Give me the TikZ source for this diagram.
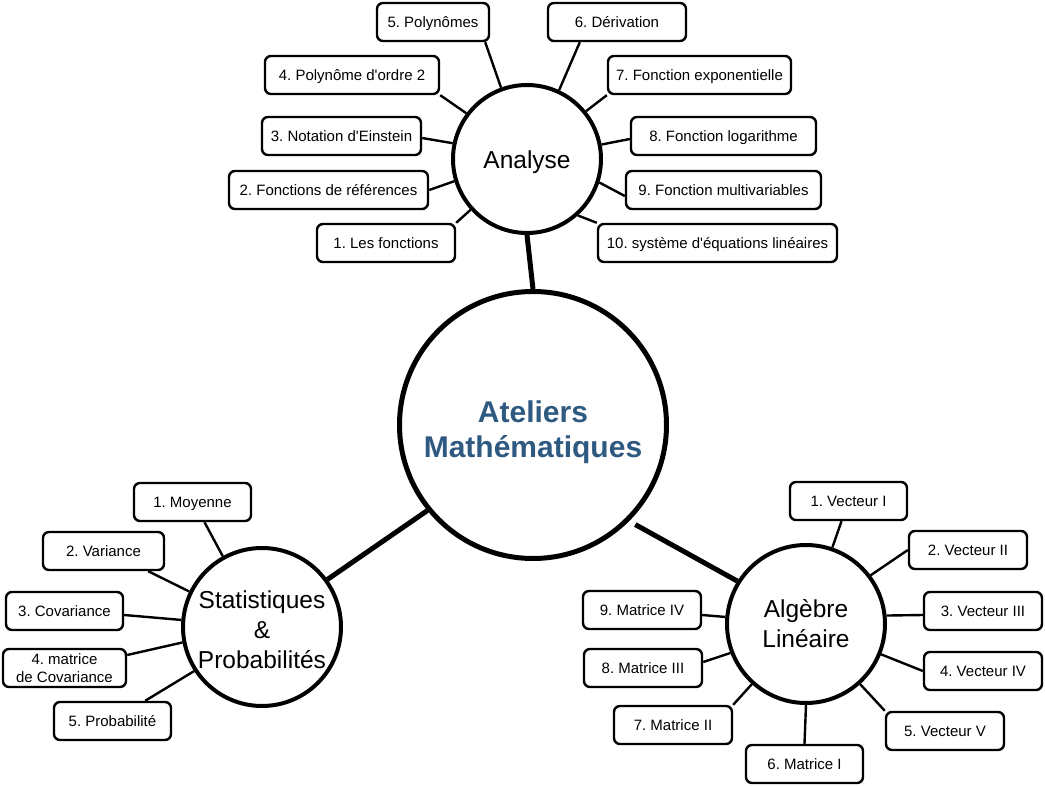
\documentclass[tikz,border=0pt]{standalone}
\usepackage{fontspec}
\setmainfont{Liberation Sans}
\definecolor{titleblue}{RGB}{46,89,128}
\frenchspacing
\begin{document}
\begin{tikzpicture}[x=1pt,y=-1pt,
  box/.style={draw, line width=2.4pt, rounded corners=6pt, minimum height=38pt, inner sep=0pt, font=\fontsize{15}{18}\selectfont, text height=12pt, text depth=1.3pt},
  twoline/.style={text height=, text depth=, align=center, font=\fontsize{15}{18}\selectfont},
  hub/.style={draw, circle, line width=4pt, inner sep=0pt, fill=white},
  hubtext/.style={font=\fontsize{24.5}{30}\selectfont, align=center, inner sep=0pt},
  link/.style={line width=2.4pt},
  trunk/.style={line width=5pt}]
\useasboundingbox (0,0) rectangle (1045,786);
% hubs
\node[hub, minimum size=148pt, label={[hubtext, yshift=-3pt]center:Analyse}] (an) at (527,159) {};
\node[hub, minimum size=267pt, line width=5pt, label={[hubtext, text=titleblue, font=\bfseries\fontsize{30}{35}\selectfont, yshift=-7pt]center:Ateliers\\Mathématiques}] (main) at (533,425) {};
\node[hub, minimum size=158pt, label={[hubtext, yshift=-3pt]center:Statistiques\\\&\\Probabilités}] (st) at (262,627) {};
\node[hub, minimum size=158pt, label={[hubtext]center:Algèbre\\Linéaire}] (al) at (806,624) {};
% Analyse boxes
\node[box, minimum width=112pt] (a5) at (433,22) {5. Polynômes};
\node[box, minimum width=138pt] (a6) at (617,22) {6. Dérivation};
\node[box, minimum width=174pt] (a4) at (352,75) {4. Polynôme d\textquotesingle ordre 2};
\node[box, minimum width=183pt] (a7) at (699.5,75) {7. Fonction exponentielle};
\node[box, minimum width=159pt] (a3) at (341.5,136) {3. Notation d\textquotesingle Einstein};
\node[box, minimum width=185pt] (a8) at (723.5,136) {8. Fonction logarithme};
\node[box, minimum width=199pt] (a2) at (328.5,190) {2. Fonctions de références};
\node[box, minimum width=195pt] (a9) at (723.5,190) {9. Fonction multivariables};
\node[box, minimum width=138pt] (a1) at (386,243) {1. Les fonctions};
\node[box, minimum width=239pt] (a10) at (717.5,243) {10. système d\textquotesingle équations linéaires};
% Stats boxes
\node[box, minimum width=117pt] (s1) at (192.5,502) {1. Moyenne};
\node[box, minimum width=121pt] (s2) at (103.5,551) {2. Variance};
\node[box, minimum width=117pt] (s3) at (64.5,611) {3. Covariance};
\node[box, twoline, minimum width=123pt] (s4) at (64.5,668) {4. matrice\\de Covariance};
\node[box, minimum width=117pt] (s5) at (112.5,721) {5. Probabilité};
% Algebra boxes
\node[box, minimum width=117pt] (l1) at (848.5,501) {1. Vecteur I};
\node[box, minimum width=118pt] (l2) at (968,550) {2. Vecteur II};
\node[box, minimum width=118pt] (l3) at (983,611) {3. Vecteur III};
\node[box, minimum width=118pt] (l4) at (983,671) {4. Vecteur IV};
\node[box, minimum width=118pt] (l5) at (945,731) {5. Vecteur V};
\node[box, minimum width=117pt] (l6) at (804.5,764) {6. Matrice I};
\node[box, minimum width=118pt] (l7) at (673,725) {7. Matrice II};
\node[box, minimum width=118pt] (l8) at (643,668) {8. Matrice III};
\node[box, minimum width=118pt] (l9) at (642,610) {9. Matrice IV};
% trunks
\draw[trunk] (an.270) -- (main.90);
\draw[trunk] (main.219) -- (st.36);
\draw[trunk, shorten <=7pt] (main.315) -- (al.148);
% Analyse links
\draw[link] ([xshift=-5pt]a5.south east) -- (an.110);
\draw[link] ([xshift=33pt]a6.south west) -- (an.65);
\draw[link] (a4.south east) -- (an.143);
\draw[link] (a7.south west) -- (an.39);
\draw[link] ([yshift=-2pt]a3.east) -- (an.168);
\draw[link] ([yshift=-3pt]a8.west) -- (an.11);
\draw[link] (a2.east) -- (an.197);
\draw[link] ([yshift=-6pt]a9.west) -- (an.342);
\draw[link] (a1.north east) -- (an.222);
\draw[link] (a10.north west) -- (an.312);
% Stats links
\draw[link] ([xshift=12pt]s1.south) -- (st.119);
\draw[link] ([xshift=-17pt]s2.south east) -- (st.154);
\draw[link] ([yshift=-4pt]s3.east) -- (st.175);
\draw[link] ([yshift=13pt]s4.east) -- (st.191);
\draw[link] ([xshift=-27pt]s5.north east) -- (st.213);
% Algebra links
\draw[link] ([xshift=-7pt]l1.south) -- (al.71);
\draw[link] (l2.west) -- (al.37);
\draw[link] ([yshift=-4pt]l3.west) -- (al.6);
\draw[link] (l4.west) -- (al.338);
\draw[link] (l5.north west) -- (al.312);
\draw[link] (l6.north) -- (al.270);
\draw[link] (l7.north east) -- (al.228);
\draw[link] ([yshift=6pt]l8.east) -- (al.201);
\draw[link] ([yshift=-5pt]l9.east) -- (al.175);
\end{tikzpicture}
\end{document}
